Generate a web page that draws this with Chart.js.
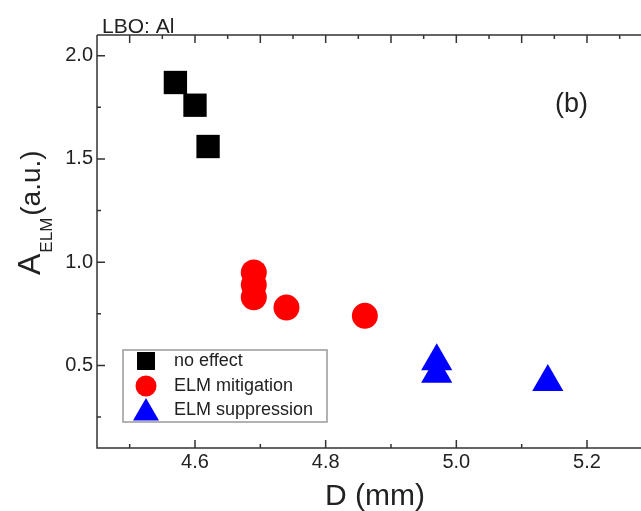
<!DOCTYPE html>
<html>
<head>
<meta charset="utf-8">
<script src="https://cdn.jsdelivr.net/npm/chart.js@4.4.1/dist/chart.umd.min.js"></script>
<style>
  html, body { margin: 0; padding: 0; background: #fff; overflow: hidden; }
  #wrap { width: 703px; height: 511px; }
</style>
</head>
<body>
<div id="wrap"><canvas id="chart" width="703" height="511"></canvas></div>
<script>
// A_ELM vs D, LBO: Al (panel b)
const noEffectD = [4.57, 4.60, 4.62];
const noEffectA = [1.87, 1.76, 1.56];
const mitigationD = [4.69, 4.69, 4.69, 4.74, 4.86];
const mitigationA = [0.95, 0.89, 0.83, 0.78, 0.74];
const suppressionD = [4.97, 4.97, 5.14];
const suppressionA = [0.52, 0.46, 0.42];
const xTickLabels = [4.6, 4.8, 5.0, 5.2];
const yTickLabels = [0.5, 1.0, 1.5, 2.0];
const seriesNames = ['no effect', 'ELM mitigation', 'ELM suppression'];

const FONT = '"Liberation Sans", Arial, sans-serif';
const TEXT = '#222';
const toPoints = (xs, ys) => xs.map((x, i) => ({ x: x, y: ys[i] }));

const markers = [
    { style: 'rect', color: '#000000', r: 16.5, legendR: 12.7 },
    { style: 'circle', color: '#ff0000', r: 13, legendR: 10.5 },
    { style: 'triangle', color: '#0000ff', r: 18, legendR: 15 }
];

function marker(ctx, m, r, x, y) {
    if (Chart.helpers && Chart.helpers.drawPoint) {
        ctx.fillStyle = m.color;
        ctx.strokeStyle = m.color;
        Chart.helpers.drawPoint(ctx, { pointStyle: m.style, radius: r, borderWidth: 0, rotation: 0 }, x, y);
        return;
    }
    ctx.fillStyle = m.color;
    ctx.beginPath();
    if (m.style === 'rect') {
        const s = r * Math.SQRT1_2;
        ctx.rect(x - s, y - s, 2 * s, 2 * s);
    } else if (m.style === 'circle') {
        ctx.arc(x, y, r, 0, Math.PI * 2);
    } else {
        ctx.moveTo(x, y - r);
        ctx.lineTo(x + r * 0.866, y + r / 2);
        ctx.lineTo(x - r * 0.866, y + r / 2);
        ctx.closePath();
    }
    ctx.fill();
}

const decorPlugin = {
    id: 'decor',
    afterDraw(chart) {
        const { ctx, chartArea: a, scales: { x, y } } = chart;
        ctx.save();

        // frame + inward ticks
        ctx.strokeStyle = '#333';
        ctx.lineWidth = 1.5;
        ctx.beginPath();
        ctx.moveTo(a.left, a.top); ctx.lineTo(a.right, a.top);
        ctx.moveTo(a.left, a.top); ctx.lineTo(a.left, a.bottom); ctx.lineTo(a.right, a.bottom);
        for (let i = Math.ceil(x.min * 10 - 1e-6); i <= x.max * 10 + 1e-6; i++) {
            const px = x.getPixelForValue(i / 10);
            const len = i % 2 === 0 ? 8 : 4;
            ctx.moveTo(px, a.bottom); ctx.lineTo(px, a.bottom - len);
        }
        for (let i = Math.ceil(x.min * 20 - 1e-6); i <= x.max * 20 + 1e-6; i++) {
            const px = x.getPixelForValue(i / 20);
            const len = i % 2 === 0 ? 8 : 4;
            ctx.moveTo(px, a.top); ctx.lineTo(px, a.top + len);
        }
        for (let i = Math.ceil(y.min * 4 - 1e-6); i <= y.max * 4 + 1e-6; i++) {
            const py = y.getPixelForValue(i / 4);
            const len = i % 2 === 0 ? 8 : 4;
            ctx.moveTo(a.left, py); ctx.lineTo(a.left + len, py);
        }
        ctx.stroke();

        // texts
        ctx.fillStyle = TEXT;
        ctx.textBaseline = 'alphabetic';
        ctx.textAlign = 'left';
        ctx.font = '21px ' + FONT;
        ctx.fillText('LBO: Al', 102, 33);
        ctx.font = '27px ' + FONT;
        ctx.fillText('(b)', 555, 112);
        ctx.font = '30px ' + FONT;
        ctx.textAlign = 'center';
        ctx.fillText('D (mm)', 375, 505);

        // y title: A_ELM (a.u.)
        ctx.save();
        ctx.translate(40, 275);
        ctx.rotate(-Math.PI / 2);
        ctx.textAlign = 'left';
        ctx.font = '32px ' + FONT;
        ctx.fillText('A', 0, 0);
        let off = ctx.measureText('A').width + 1;
        ctx.font = '17px ' + FONT;
        ctx.fillText('ELM', off, 12);
        off += ctx.measureText('ELM').width + 2;
        ctx.font = '28px ' + FONT;
        ctx.fillText('(a.u.)', off, 0);
        ctx.restore();

        // legend box
        ctx.strokeStyle = '#999';
        ctx.lineWidth = 1.5;
        ctx.strokeRect(123, 350, 204, 72);
        const rowsY = [361, 386, 410];
        ctx.font = '18px ' + FONT;
        ctx.textAlign = 'left';
        ctx.textBaseline = 'middle';
        seriesNames.forEach((name, i) => {
            const m = markers[i];
            const my = m.style === 'triangle' ? rowsY[i] + 3 : rowsY[i];
            marker(ctx, m, m.legendR, 146, my);
            ctx.fillStyle = TEXT;
            ctx.fillText(name, 174, rowsY[i]);
        });
        ctx.restore();
    }
};

const xData = [noEffectD, mitigationD, suppressionD];
const yData = [noEffectA, mitigationA, suppressionA];

const noPad = (s) => { s.paddingLeft = 0; s.paddingRight = 0; s.paddingTop = 0; s.paddingBottom = 0; };

new Chart(document.getElementById('chart'), {
    type: 'scatter',
    data: {
        datasets: seriesNames.map((name, i) => ({
            label: name,
            data: toPoints(xData[i], yData[i]),
            pointStyle: markers[i].style,
            pointRadius: markers[i].r,
            pointHoverRadius: markers[i].r,
            backgroundColor: markers[i].color,
            borderColor: markers[i].color,
            borderWidth: 0,
            showLine: false
        }))
    },
    options: {
        responsive: false,
        animation: false,
        devicePixelRatio: 1,
        // right side: the big markers reserve 18px, canvas is 18px wider than the frame
        layout: { padding: { top: 35, right: 0, left: 0, bottom: 0 } },
        plugins: {
            legend: { display: false },
            tooltip: { enabled: false },
            title: { display: false }
        },
        scales: {
            x: {
                type: 'linear',
                min: 4.45,
                max: 5.35,
                grid: { display: false, drawTicks: false },
                border: { display: false },
                afterBuildTicks: (s) => { s.ticks = xTickLabels.map(v => ({ value: v })); },
                afterFit: (s) => { s.height = 63; noPad(s); },
                ticks: {
                    autoSkip: false,
                    maxRotation: 0,
                    padding: 2,
                    color: TEXT,
                    font: { family: FONT, size: 20 },
                    callback: (v) => Number(v).toFixed(1)
                }
            },
            y: {
                type: 'linear',
                min: 0.1,
                max: 2.1,
                grid: { display: false, drawTicks: false },
                border: { display: false },
                afterBuildTicks: (s) => { s.ticks = yTickLabels.map(v => ({ value: v })); },
                afterFit: (s) => { s.width = 97; noPad(s); },
                ticks: {
                    autoSkip: false,
                    padding: 4,
                    color: TEXT,
                    font: { family: FONT, size: 20 },
                    callback: (v) => Number(v).toFixed(1)
                }
            }
        }
    },
    plugins: [decorPlugin]
});
</script>
</body>
</html>
